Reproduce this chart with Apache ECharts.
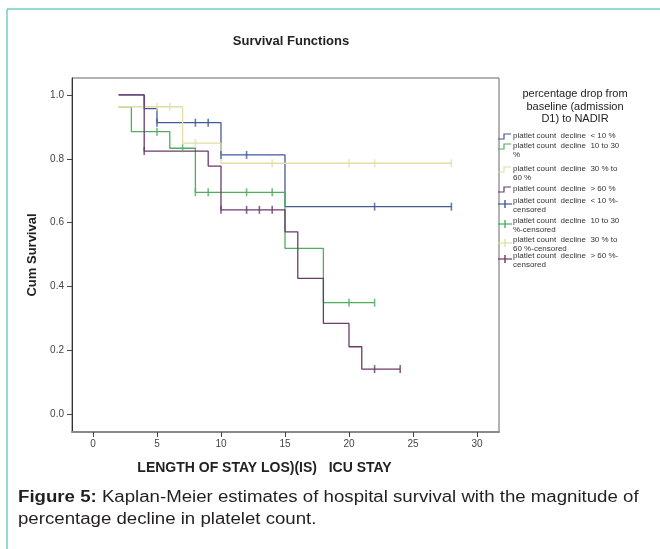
<!DOCTYPE html>
<html><head><meta charset="utf-8">
<script src="https://cdn.jsdelivr.net/npm/echarts@6/dist/echarts.min.js"></script>
<style>html,body{margin:0;padding:0;background:#fff}#c{width:660px;height:549px}</style>
</head><body><div id="c"></div>
<script>
// ---- data ----
const legendLabels = [
  'platlet count  decline  < 10 %',
  'platlet count  decline  10 to 30\n%',
  'platlet count  decline  30 % to\n60 %',
  'platlet count  decline  > 60 %',
  'platlet count  decline  < 10 %-\ncensored',
  'platlet count  decline  10 to 30\n%-censored',
  'platlet count  decline  30 % to\n60 %-censored',
  'platlet count  decline  > 60 %-\ncensored'
];
const xTicks = [0, 5, 10, 15, 20, 25, 30];
const yTicks = [0, 0.2, 0.4, 0.6, 0.8, 1.0];
// step curves: [time, survival after that time]
const curveLt10 = [[2, 1.0], [4, 0.957], [5, 0.913], [10, 0.812], [15, 0.65], [28, 0.65]];
const curve10to30 = [[2, 0.963], [3, 0.885], [6, 0.833], [8, 0.695], [15, 0.519], [18, 0.349], [22, 0.349]];
const curve30to60 = [[2, 0.963], [7, 0.849], [10, 0.786], [28, 0.786]];
const curveGt60 = [[2, 1.0], [4, 0.824], [9, 0.777], [10, 0.64], [15, 0.571], [16, 0.425], [18, 0.284], [20, 0.211], [21, 0.141], [24, 0.141]];
// censored observations
const censLt10 = [[5, 0.913], [8, 0.913], [9, 0.913], [10, 0.812], [12, 0.812], [22, 0.65], [28, 0.65]];
const cens10to30 = [[5, 0.885], [7, 0.833], [8, 0.695], [9, 0.695], [12, 0.695], [14, 0.695], [20, 0.349], [22, 0.349]];
const cens30to60 = [[5, 0.963], [6, 0.963], [8, 0.849], [14, 0.786], [20, 0.786], [22, 0.786], [28, 0.786]];
const censGt60 = [[4, 0.824], [10, 0.64], [12, 0.64], [13, 0.64], [14, 0.64], [22, 0.141], [24, 0.141]];

const colors = ['#43599c', '#4fae5b', '#e2dea4', '#6c3a6c'];
const curves = [curveLt10, curve10to30, curve30to60, curveGt60];
const censors = [censLt10, cens10to30, cens30to60, censGt60];

const series = [];
curves.forEach((d, i) => series.push({
  name: legendLabels[i], type: 'line', step: 'end', data: d, showSymbol: false,
  lineStyle: { color: colors[i], width: 1.3 }, itemStyle: { color: colors[i] }, z: 3 + (i === 3 ? 1 : 0)
}));
censors.forEach((d, i) => series.push({
  name: legendLabels[i + 4], type: 'scatter', data: d, symbol: 'rect', symbolSize: [1.6, 8],
  itemStyle: { color: colors[i] }, z: 5
}));

// legend built from graphics
const legendGraphics = [];
legendGraphics.push({ type: 'text', x: 575, y: 88, style: { text: 'percentage drop from\nbaseline (admission\nD1) to NADIR', font: '11px "Liberation Sans", Arial', fill: '#222', align: 'center', verticalAlign: 'top', lineHeight: 12.5 } });
const itemY = [136, 146, 169, 189, 201, 221, 240, 256];
legendLabels.forEach((lab, i) => {
  const c = colors[i % 4];
  const y = itemY[i];
  if (i < 4) {
    legendGraphics.push({ type: 'polyline', shape: { points: [[498, y + 3], [504, y + 3], [504, y - 2], [511, y - 2]] }, style: { stroke: c, lineWidth: 1.2, fill: null } });
  } else {
    legendGraphics.push({ type: 'line', shape: { x1: 498, y1: y + 3, x2: 512, y2: y + 3 }, style: { stroke: c, lineWidth: 1.2 } });
    legendGraphics.push({ type: 'line', shape: { x1: 505, y1: y - 1, x2: 505, y2: y + 7 }, style: { stroke: c, lineWidth: 1.4 } });
  }
  legendGraphics.push({ type: 'text', x: 513, y: y - 4, style: { text: lab, font: '8px "Liberation Sans", Arial', fill: '#333', lineHeight: 8.5, verticalAlign: 'top' } });
});

const chart = echarts.init(document.getElementById('c'));
chart.setOption({
  animation: false,
  backgroundColor: '#ffffff',
  title: { text: 'Survival Functions', left: 286, top: 30, textAlign: 'center',
    textStyle: { fontFamily: '"Liberation Sans", Arial', fontSize: 13, fontWeight: 'bold', color: '#222' } },
  grid: { left: 72, top: 78, width: 427, height: 354, show: true, borderColor: '#666', borderWidth: 1, backgroundColor: '#fff' },
  xAxis: {
    type: 'value', min: -1.64, max: 31.72,
    name: 'LENGTH OF STAY LOS)(IS)   ICU STAY', nameLocation: 'middle', nameGap: 29,
    nameTextStyle: { fontFamily: '"Liberation Sans", Arial', fontSize: 14, fontWeight: 'bold', color: '#222', padding: [0, 42, 0, 0] },
    axisLine: { show: true, onZero: false, lineStyle: { color: '#888', width: 2 } },
    axisTick: { show: true, length: 5, customValues: xTicks, lineStyle: { color: '#444' } },
    axisLabel: { customValues: xTicks, fontFamily: '"Liberation Sans", Arial', fontSize: 10, color: '#444', margin: 7 },
    splitLine: { show: false }
  },
  yAxis: {
    type: 'value', min: -0.056, max: 1.053,
    name: 'Cum Survival', nameLocation: 'middle', nameGap: 33,
    nameTextStyle: { fontFamily: '"Liberation Sans", Arial', fontSize: 13, fontWeight: 'bold', color: '#222' },
    axisLine: { show: true, onZero: false, lineStyle: { color: '#333', width: 1 } },
    axisTick: { show: true, length: 5, customValues: yTicks, lineStyle: { color: '#444' } },
    axisLabel: { customValues: yTicks, formatter: v => v.toFixed(1), fontFamily: '"Liberation Sans", Arial', fontSize: 10, color: '#444', margin: 8 },
    splitLine: { show: false }
  },
  series: series,
  graphic: [
    { type: 'line', shape: { x1: 7, y1: 9, x2: 660, y2: 9 }, style: { stroke: '#6fcfc1', lineWidth: 1.5 } },
    { type: 'line', shape: { x1: 7, y1: 9, x2: 7, y2: 549 }, style: { stroke: '#6fcfc1', lineWidth: 1.5 } },
    ...legendGraphics,
    { type: 'text', x: 18, y: 487, scaleX: 1.165, style: {
      text: '{b|Figure 5:} Kaplan-Meier estimates of hospital survival with the magnitude of\npercentage decline in platelet count.',
      font: '16px "Liberation Sans", Arial', fill: '#231f20', lineHeight: 22, verticalAlign: 'top',
      rich: { b: { fontWeight: 'bold', fontSize: 16, fontFamily: '"Liberation Sans", Arial', fill: '#231f20' } } } }
  ]
});
</script></body></html>
